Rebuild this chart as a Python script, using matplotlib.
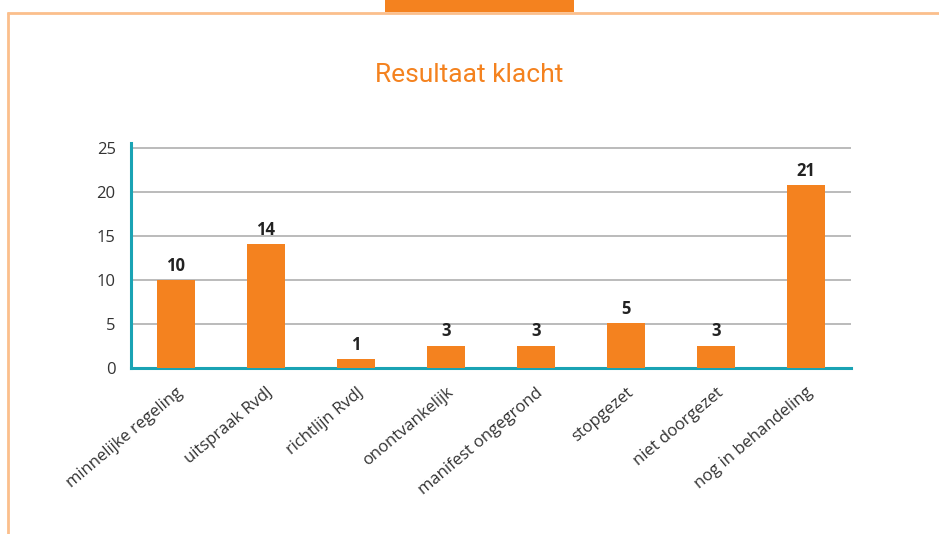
import matplotlib
matplotlib.use("Agg")
import matplotlib.pyplot as plt
from matplotlib.patches import Rectangle
from matplotlib.lines import Line2D

categories = ["minnelijke regeling", "uitspraak RvdJ", "richtlijn RvdJ", "onontvankelijk",
              "manifest ongegrond", "stopgezet", "niet doorgezet", "nog in behandeling"]
bar_heights = [10, 14.1, 1, 2.5, 2.5, 5.1, 2.5, 20.8]
value_labels = ["10", "14", "1", "3", "3", "5", "3", "21"]
y_ticks = [0, 5, 10, 15, 20, 25]
title = "Resultaat klacht"

ORANGE = "#f4821f"
LIGHT_ORANGE = "#fbbf8c"
TEAL = "#1aa3b4"
GRID = "#b5b5b5"
TEXT = "#333333"

W, H = 939, 534
fig = plt.figure(figsize=(W / 100, H / 100), dpi=100)

# frame decoration
fig.add_artist(Line2D([7 / W, 1], [1 - 13 / H, 1 - 13 / H], color=LIGHT_ORANGE, lw=2.0,
                      transform=fig.transFigure, solid_capstyle="butt"))
fig.add_artist(Line2D([8 / W, 8 / W], [0, 1 - 12 / H], color=LIGHT_ORANGE, lw=2.0,
                      transform=fig.transFigure, solid_capstyle="butt"))
fig.add_artist(Rectangle((385 / W, 1 - 12 / H), 189 / W, 12 / H, color=ORANGE,
                         transform=fig.transFigure, lw=0))

fig.text(469 / W, 1 - 82 / H, title, color=ORANGE, fontsize=19,
         family=["Roboto", "DejaVu Sans"], ha="center", va="baseline")

left, right, bottom, top = 131, 851, 368, 143
ax = fig.add_axes([left / W, 1 - bottom / H, (right - left) / W, (bottom - top) / H])
x = list(range(len(categories)))
bars = ax.bar(x, bar_heights, width=0.42, color=ORANGE, zorder=3)
ax.set_xlim(-0.5, len(categories) - 0.5)
ax.set_ylim(0, 25.6)
ax.set_yticks(y_ticks)
ax.yaxis.grid(True, color=GRID, lw=1.3, zorder=0)
ax.set_axisbelow(True)
for s in ["top", "right"]:
    ax.spines[s].set_visible(False)
for s in ["left", "bottom"]:
    ax.spines[s].set_color(TEAL)
    ax.spines[s].set_linewidth(2.2)
ax.tick_params(axis="both", length=0, colors=TEXT)
ax.tick_params(axis="y", pad=11)
ax.set_yticklabels([str(t) for t in y_ticks], family="Open Sans", fontsize=12, color=TEXT)
ax.set_xticks(x)
ax.set_xticklabels(categories, rotation=40, ha="right", va="top", rotation_mode="anchor",
                   family="Open Sans", fontsize=12, color=TEXT)
ax.tick_params(axis="x", pad=12)

for xi, h, lab in zip(x, bar_heights, value_labels):
    ax.annotate(lab, (xi, h), xytext=(0, 4), textcoords="offset points", ha="center",
                va="bottom", fontsize=12, fontweight="bold", family="Open Sans", color="#222222")

fig.savefig("out.png", dpi=100)
